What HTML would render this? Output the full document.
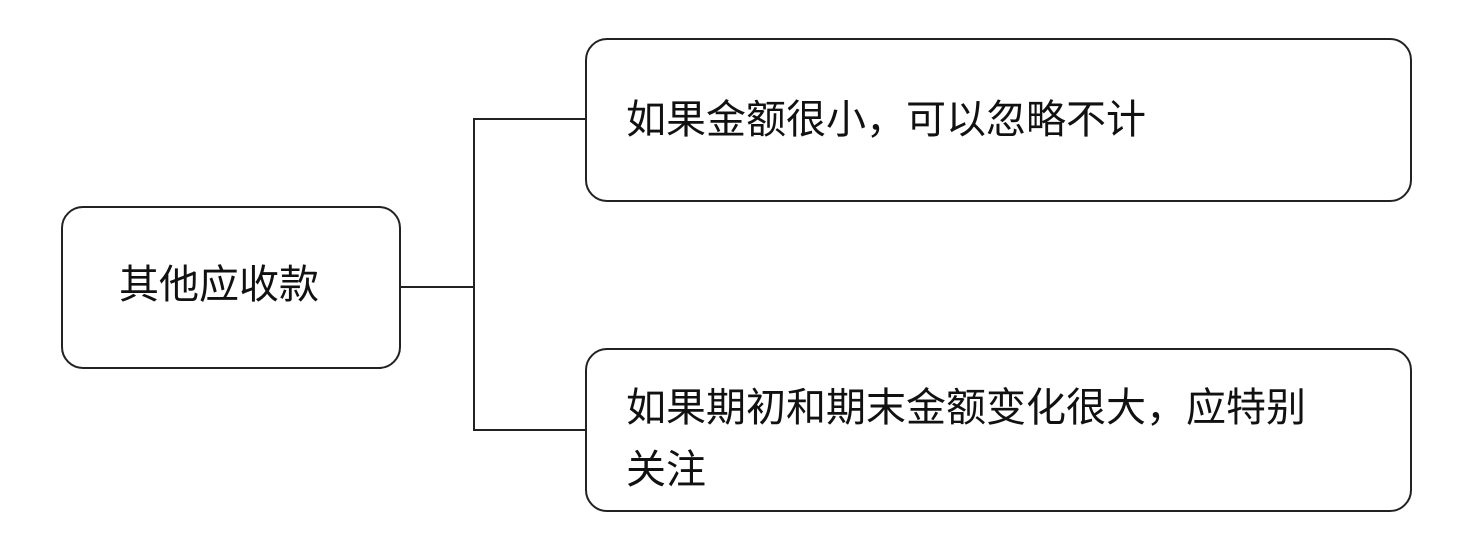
<!DOCTYPE html>
<html><head><meta charset="utf-8"><style>
body{margin:0;width:1462px;height:546px;background:#fff;position:relative;overflow:hidden;font-family:"Liberation Sans","Noto Sans CJK SC",sans-serif;color:#111}
.b{position:absolute;border:2px solid #222;border-radius:22px;box-sizing:border-box}
.t{position:absolute;font-size:40px;line-height:62px;white-space:nowrap}
.l{position:absolute;background:#222}
</style></head><body>
<div class="b" style="left:61px;top:206px;width:340px;height:163px"></div>
<div class="t" style="left:119px;top:254px">其他应收款</div>
<div class="b" style="left:585px;top:38px;width:827px;height:164px"></div>
<div class="t" style="left:626px;top:89px">如果金额很小，可以忽略不计</div>
<div class="b" style="left:585px;top:348px;width:827px;height:164px"></div>
<div class="t" style="left:626px;top:377px">如果期初和期末金额变化很大，应特别<br>关注</div>
<div class="l" style="left:401px;top:286px;width:74px;height:2px"></div>
<div class="l" style="left:473px;top:118px;width:2px;height:313px"></div>
<div class="l" style="left:473px;top:118px;width:112px;height:2px"></div>
<div class="l" style="left:473px;top:429px;width:112px;height:2px"></div>
</body></html>
